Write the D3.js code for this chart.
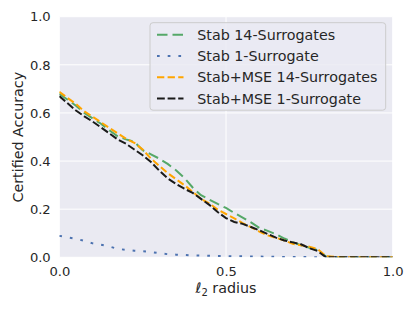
<!DOCTYPE html>
<html>
<head>
<meta charset="utf-8">
<script src="https://cdn.jsdelivr.net/npm/d3@7"></script>
<style>
  body { margin: 0; background: #fff; }
  text { font-family: "DejaVu Sans", sans-serif; fill: #262626; }
</style>
</head>
<body>
<svg id="chart" width="415" height="311"></svg>
<script>
// radius grid shared by all curves
var radius = [0, 0.025, 0.05, 0.075, 0.1, 0.125, 0.15, 0.175, 0.2, 0.225, 0.25, 0.275, 0.3, 0.325, 0.35, 0.375,
  0.4, 0.425, 0.45, 0.475, 0.5, 0.525, 0.55, 0.575, 0.6, 0.625, 0.65, 0.675, 0.7, 0.725, 0.75, 0.775, 0.8,
  0.85, 0.9, 0.95, 1.0];

var stab14 = [0.680, 0.655, 0.630, 0.600, 0.577, 0.555, 0.528, 0.503, 0.490, 0.480, 0.445, 0.428, 0.410, 0.388, 0.362, 0.330,
  0.290, 0.258, 0.240, 0.222, 0.205, 0.184, 0.165, 0.145, 0.122, 0.110, 0.096, 0.078, 0.063, 0.050, 0.040, 0.030, 0.003,
  0, 0, 0, 0];
var stab1 = [0.089, 0.083, 0.077, 0.068, 0.058, 0.052, 0.045, 0.035, 0.031, 0.027, 0.025, 0.022, 0.017, 0.013, 0.011, 0.010,
  0.008, 0.007, 0.006, 0.005, 0.005, 0.004, 0.004, 0.003, 0.003, 0.002, 0.002, 0.001, 0.001, 0.001, 0.001, 0.0, 0.0,
  0, 0, 0, 0];
var mse14 = [0.688, 0.662, 0.637, 0.607, 0.584, 0.561, 0.538, 0.515, 0.493, 0.476, 0.448, 0.410, 0.380, 0.350, 0.325, 0.300,
  0.272, 0.243, 0.224, 0.198, 0.180, 0.162, 0.142, 0.125, 0.107, 0.091, 0.081, 0.070, 0.056, 0.050, 0.044, 0.034, 0.005,
  0, 0, 0, 0];
var mse1 = [0.670, 0.640, 0.610, 0.586, 0.564, 0.540, 0.515, 0.490, 0.472, 0.448, 0.424, 0.396, 0.360, 0.328, 0.305, 0.285,
  0.268, 0.243, 0.218, 0.188, 0.163, 0.147, 0.139, 0.126, 0.112, 0.097, 0.082, 0.070, 0.062, 0.054, 0.038, 0.026, 0.0,
  0, 0, 0, 0];

var seriesNames = ["Stab 14-Surrogates", "Stab 1-Surrogate", "Stab+MSE 14-Surrogates", "Stab+MSE 1-Surrogate"];
var xTicks = [0, 0.5, 1.0];
var yTicks = [0, 0.2, 0.4, 0.6, 0.8, 1.0];

var series = [
  {name: seriesNames[0], values: stab14, color: "#55a868", dash: "10.5,5"},
  {name: seriesNames[1], values: stab1, color: "#4c72b0", dash: "2.7,8"},
  {name: seriesNames[2], values: mse14, color: "#ffa500", dash: "7.3,3.3"},
  {name: seriesNames[3], values: mse1, color: "#1a1a1a", dash: "7.8,2.8"}
];

var svg = d3.select("#chart");
var margin = {top: 16.7, right: 22.3, bottom: 53.7, left: 59.3};
var width = 415 - margin.left - margin.right,
    height = 311 - margin.top - margin.bottom;

var x = d3.scaleLinear().domain([0, 1]).range([0, width]);
var y = d3.scaleLinear().domain([0, 1]).range([height, 0]);

var g = svg.append("g").attr("transform", "translate(" + margin.left + "," + margin.top + ")");

g.append("rect").attr("width", width).attr("height", height).attr("fill", "#eaeaf2");

g.append("defs").append("clipPath").attr("id", "clip")
  .append("rect").attr("width", width).attr("height", height);

// grid
g.selectAll(".hgrid").data(yTicks).enter().append("line")
  .attr("x1", 0).attr("x2", width)
  .attr("y1", function (d) { return y(d); }).attr("y2", function (d) { return y(d); })
  .attr("stroke", "#fff").attr("stroke-width", 1);
g.selectAll(".vgrid").data(xTicks).enter().append("line")
  .attr("y1", 0).attr("y2", height)
  .attr("x1", function (d) { return x(d); }).attr("x2", function (d) { return x(d); })
  .attr("stroke", "#fff").attr("stroke-width", 1);

var xAxis = d3.axisBottom(x).tickValues(xTicks).tickSize(0).tickPadding(9.4).tickFormat(d3.format(".1f"));
var yAxis = d3.axisLeft(y).tickValues(yTicks).tickSize(0).tickPadding(8.6).tickFormat(d3.format(".1f"));

var gx = g.append("g").attr("transform", "translate(0," + height + ")").call(xAxis);
var gy = g.append("g").call(yAxis);
[gx, gy].forEach(function (a) {
  a.select(".domain").remove();
  a.selectAll("text").attr("font-size", "13.1px").attr("fill", "#262626").attr("font-family", "DejaVu Sans");
});

var line = d3.line()
  .x(function (d, i) { return x(radius[i]); })
  .y(function (d) { return y(d); });

var plot = g.append("g").attr("clip-path", "url(#clip)");
series.forEach(function (s) {
  plot.append("path")
    .datum(s.values)
    .attr("d", line)
    .attr("fill", "none")
    .attr("stroke", s.color)
    .attr("stroke-width", 2)
    .attr("stroke-dasharray", s.dash);
});

// legend
var lg = g.append("g").attr("transform", "translate(" + (150 - margin.left) + "," + (22.7 - margin.top) + ")");
lg.append("rect").attr("width", 235.7).attr("height", 87.5).attr("rx", 3)
  .attr("fill", "#eaeaf2").attr("fill-opacity", 0.8).attr("stroke", "#cccccc").attr("stroke-width", 1);
series.forEach(function (s, i) {
  var yy = 12 + i * 21.3;
  lg.append("line").attr("x1", 7).attr("x2", 33.5).attr("y1", yy).attr("y2", yy)
    .attr("stroke", s.color).attr("stroke-width", 2).attr("stroke-dasharray", s.dash);
  lg.append("text").attr("x", 47.3).attr("y", yy).attr("dy", "0.36em")
    .attr("font-size", "14.27px").text(s.name);
});

// axis labels
g.append("text").attr("x", width / 2).attr("y", height + 36)
  .attr("text-anchor", "middle").attr("font-size", "14.27px")
  .html("<tspan font-style='italic'>ℓ</tspan><tspan font-size='10px' dy='3'>2</tspan><tspan dy='-3'> radius</tspan>");
g.append("text").attr("transform", "translate(" + (23 - margin.left) + "," + (137.2 - margin.top) + ") rotate(-90)")
  .attr("text-anchor", "middle").attr("font-size", "14.27px").text("Certified Accuracy");
</script>
</body>
</html>
